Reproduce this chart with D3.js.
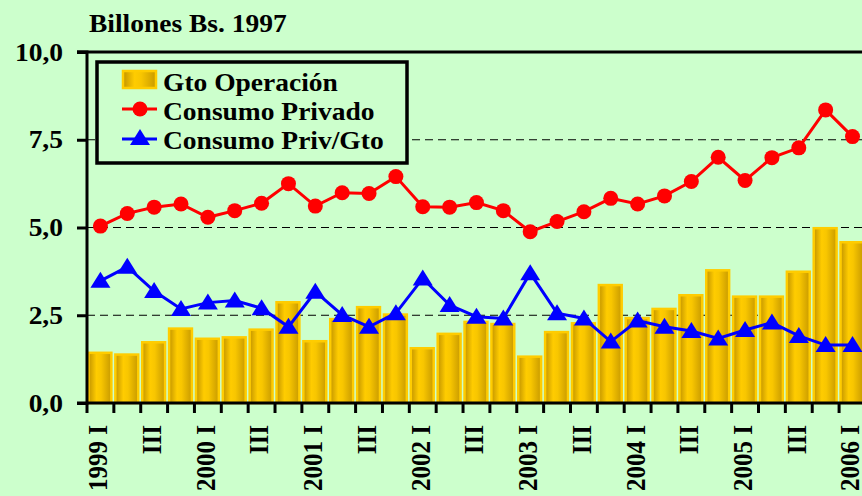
<!DOCTYPE html>
<html>
<head>
<meta charset="utf-8">
<script src="https://cdn.jsdelivr.net/npm/d3@7"></script>
<style>
  body { margin: 0; background: #CCFFCC; }
  svg { display: block; }
  text { font-family: "Liberation Serif", "Times New Roman", serif; font-weight: bold; fill: #000; }
</style>
</head>
<body>
<div class="chart"></div>
<script>
// data
const quarters = ["1999 I","1999 II","1999 III","1999 IV","2000 I","2000 II","2000 III","2000 IV",
  "2001 I","2001 II","2001 III","2001 IV","2002 I","2002 II","2002 III","2002 IV",
  "2003 I","2003 II","2003 III","2003 IV","2004 I","2004 II","2004 III","2004 IV",
  "2005 I","2005 II","2005 III","2005 IV","2006 I"];
const tickLabels = ["1999 I","III","2000 I","III","2001 I","III","2002 I","III",
  "2003 I","III","2004 I","III","2005 I","III","2006 I"];
const gtoOperacion = [1.43,1.38,1.73,2.12,1.83,1.87,2.09,2.87,1.76,2.39,2.73,2.52,1.56,1.97,2.31,2.25,
  1.32,2.02,2.27,3.36,2.42,2.68,3.07,3.78,3.03,3.03,3.74,4.98,4.58];
const consumoPrivado = [5.04,5.40,5.58,5.67,5.29,5.48,5.69,6.25,5.61,5.99,5.97,6.45,5.59,5.58,5.71,5.48,
  4.88,5.17,5.45,5.83,5.67,5.90,6.31,7.00,6.34,6.99,7.27,8.35,7.59];
const consumoPrivGto = [3.48,3.88,3.19,2.68,2.86,2.92,2.70,2.17,3.17,2.51,2.17,2.56,3.55,2.79,2.46,2.41,
  3.70,2.56,2.41,1.75,2.35,2.17,2.05,1.84,2.08,2.29,1.91,1.65,1.65];
const yTicks = [0, 2.5, 5, 7.5, 10];

const W = 862, H = 496;
const plotLeft = 87, plotTop = 52, plotBottom = 403;
const sx = 1.1; // the original text is a little wider than tall

const svg = d3.select(".chart").append("svg")
    .attr("width", W)
    .attr("height", H);

svg.append("rect").attr("width", W).attr("height", H).attr("fill", "#CCFFCC");

const defs = svg.append("defs");
const grad = defs.append("linearGradient").attr("id", "gold")
    .attr("x1", "0%").attr("x2", "100%").attr("y1", "0%").attr("y2", "0%");
grad.append("stop").attr("offset", "0%").attr("stop-color", "#C29400");
grad.append("stop").attr("offset", "35%").attr("stop-color", "#FFCC00");
grad.append("stop").attr("offset", "55%").attr("stop-color", "#F8C600");
grad.append("stop").attr("offset", "100%").attr("stop-color", "#C89A00");

const x = d3.scaleBand()
    .domain(quarters)
    .range([plotLeft, plotLeft + 29 * 26.86])
    .padding(0);

const y = d3.scaleLinear()
    .domain([0, 10])
    .range([plotBottom, plotTop]);

const cx = d => x(d) + x.bandwidth() / 2;

// dashed gridlines
svg.append("g")
  .selectAll("line")
  .data([2.5, 5, 7.5])
  .join("line")
    .attr("x1", plotLeft).attr("x2", W)
    .attr("y1", d => y(d)).attr("y2", d => y(d))
    .attr("stroke", "#000")
    .attr("stroke-width", 1)
    .attr("stroke-dasharray", "8,5");

// bars
svg.append("g")
  .selectAll("rect")
  .data(quarters)
  .join("rect")
    .attr("x", d => x(d) + 1.5)
    .attr("width", x.bandwidth() - 4)
    .attr("y", (d, i) => y(gtoOperacion[i]))
    .attr("height", (d, i) => y(0) - y(gtoOperacion[i]))
    .attr("fill", "url(#gold)")
    .attr("stroke", "#FFCC00")
    .attr("stroke-width", 2.5);

// top frame line
svg.append("line")
    .attr("x1", plotLeft - 10).attr("x2", W)
    .attr("y1", plotTop).attr("y2", plotTop)
    .attr("stroke", "#000").attr("stroke-width", 3);

// y axis
const yAxis = d3.axisLeft(y)
    .tickValues(yTicks)
    .tickSize(10)
    .tickFormat(d => d3.format(".1f")(d).replace(".", ","));

const gy = svg.append("g")
    .attr("transform", `translate(${plotLeft},0)`)
    .call(yAxis);
gy.select(".domain").attr("stroke-width", 3).attr("d", `M-10,${plotTop}H0V${plotBottom}H-10`);
gy.selectAll(".tick line").attr("stroke-width", 3);
gy.selectAll(".tick text")
    .attr("x", null)
    .attr("dy", null)
    .attr("font-size", 25)
    .attr("font-family", null)
    .attr("dominant-baseline", "central")
    .attr("transform", `translate(-24,0) scale(${sx},1)`);

// x axis
const xAxis = d3.axisBottom(x)
    .tickSize(0)
    .tickFormat("");
const gx = svg.append("g")
    .attr("transform", `translate(0,${plotBottom})`)
    .call(xAxis);
gx.select(".domain").attr("stroke-width", 3).attr("d", `M${plotLeft},0H${W}`);

// ticks on the band edges
svg.append("g")
  .selectAll("line")
  .data(d3.range(quarters.length + 1))
  .join("line")
    .attr("x1", i => plotLeft + i * x.step())
    .attr("x2", i => plotLeft + i * x.step())
    .attr("y1", plotBottom).attr("y2", plotBottom + 10)
    .attr("stroke", "#000").attr("stroke-width", 3);

// rotated tick labels every other quarter
svg.append("g")
  .selectAll("text")
  .data(tickLabels)
  .join("text")
    .attr("transform", (d, i) => `translate(${cx(quarters[i * 2]) - 2},425) scale(${sx},1) rotate(-90)`)
    .attr("text-anchor", "end")
    .attr("dominant-baseline", "central")
    .attr("font-size", 25)
    .text(d => d);

// red line
const line = vals => d3.line()
    .x((d, i) => cx(quarters[i]))
    .y(d => y(d))(vals);

svg.append("path")
    .attr("d", line(consumoPrivado))
    .attr("fill", "none")
    .attr("stroke", "#FF0000")
    .attr("stroke-width", 3);

svg.append("g")
  .selectAll("circle")
  .data(consumoPrivado)
  .join("circle")
    .attr("cx", (d, i) => cx(quarters[i]))
    .attr("cy", d => y(d))
    .attr("r", 7.5)
    .attr("fill", "#FF0000");

// blue line
svg.append("path")
    .attr("d", line(consumoPrivGto))
    .attr("fill", "none")
    .attr("stroke", "#0000FF")
    .attr("stroke-width", 3);

const tri = "M0,-9L10,7L-10,7Z";
svg.append("g")
  .selectAll("path")
  .data(consumoPrivGto)
  .join("path")
    .attr("d", tri)
    .attr("transform", (d, i) => `translate(${cx(quarters[i])},${y(d)})`)
    .attr("fill", "#0000FF");

// title
svg.append("text")
    .attr("transform", `translate(89,32) scale(${sx},1)`)
    .attr("font-size", 25)
    .text("Billones Bs. 1997");

// legend
const legend = svg.append("g");
legend.append("rect")
    .attr("x", 97).attr("y", 62)
    .attr("width", 310).attr("height", 101)
    .attr("fill", "#CCFFCC")
    .attr("stroke", "#000")
    .attr("stroke-width", 3.5);

legend.append("rect")
    .attr("x", 123).attr("y", 71)
    .attr("width", 33).attr("height", 17)
    .attr("fill", "url(#gold)")
    .attr("stroke", "#FFCC00")
    .attr("stroke-width", 2.5);

legend.append("line")
    .attr("x1", 122).attr("x2", 157)
    .attr("y1", 109).attr("y2", 109)
    .attr("stroke", "#FF0000").attr("stroke-width", 3);
legend.append("circle")
    .attr("cx", 140).attr("cy", 109).attr("r", 7.5)
    .attr("fill", "#FF0000");

legend.append("line")
    .attr("x1", 122).attr("x2", 157)
    .attr("y1", 139).attr("y2", 139)
    .attr("stroke", "#0000FF").attr("stroke-width", 3);
legend.append("path")
    .attr("d", tri)
    .attr("transform", "translate(140,138)")
    .attr("fill", "#0000FF");

const legendNames = ["Gto Operación", "Consumo Privado", "Consumo Priv/Gto"];
legend.selectAll("text.lbl")
  .data(legendNames)
  .join("text")
    .attr("class", "lbl")
    .attr("transform", (d, i) => `translate(163,${90.5 + i * 29}) scale(${sx},1)`)
    .attr("font-size", 25)
    .text(d => d);
</script>
</body>
</html>
